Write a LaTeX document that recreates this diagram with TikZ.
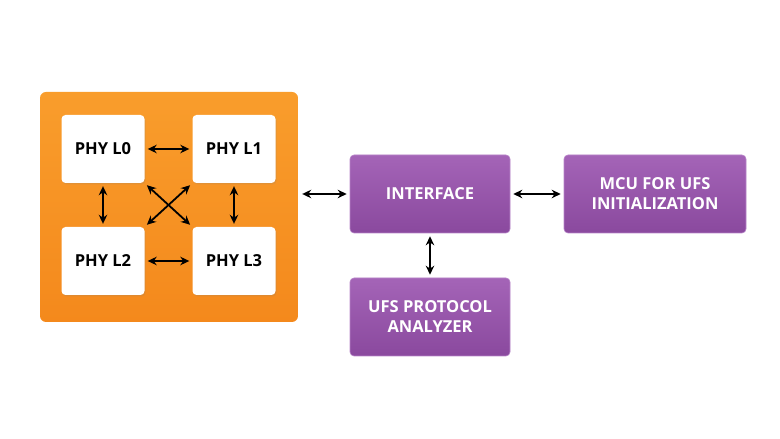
\documentclass[tikz,border=0pt]{standalone}
\usepackage{fontspec}
\setmainfont{Open Sans}
\usepackage{xcolor}
\usetikzlibrary{arrows.meta,positioning,calc,shadows}

\definecolor{orangetop}{HTML}{F99D2C}
\definecolor{orangebot}{HTML}{F4891C}
\definecolor{purpletop}{HTML}{A464B7}
\definecolor{purplebot}{HTML}{8A499E}
\definecolor{purpleline}{HTML}{B784C8}

\begin{document}
\begin{tikzpicture}[
    >={Stealth[length=9pt,width=8.5pt]},
    x=1pt, y=1pt,
    phybox/.style={rounded corners=4pt,minimum width=83pt,minimum height=68pt,
                   inner sep=1pt,fill=white,
                   drop shadow={opacity=0.18,shadow xshift=1pt,shadow yshift=-1.5pt},
                   font=\fontsize{16.5}{19}\selectfont\bfseries,text=black},
    block/.style={rounded corners=4pt,minimum height=78pt,inner sep=2pt,
                  draw=purpleline,line width=0.6pt,top color=purpletop,bottom color=purplebot,
                  align=center,font=\fontsize{16.5}{20}\selectfont\bfseries,text=white},
    link/.style={<->,line width=1.8pt,black,shorten <=3pt,shorten >=3pt},
  ]
  \useasboundingbox (0,0) rectangle (780,439);

  % --- left: PHY lanes on orange block ---
  \node[rounded corners=6pt,minimum width=258pt,minimum height=230pt,
        top color=orangetop,bottom color=orangebot] (phyblock) at (169,232) {};
  \node[phybox] (l0) at (103,290) {PHY L0};
  \node[phybox] (l1) at (234,290) {PHY L1};
  \node[phybox] (l2) at (103,178) {PHY L2};
  \node[phybox] (l3) at (234,178) {PHY L3};

  % --- right: purple blocks ---
  \node[block,minimum width=160pt] (iface) at (430,245) {INTERFACE};
  \node[block,minimum width=182pt] (mcu)   at (655,245) {MCU FOR UFS\\INITIALIZATION};
  \node[block,minimum width=160pt] (ufspa) at (430,122) {UFS PROTOCOL\\ANALYZER};

  % --- lane links ---
  \draw[link] (l0) -- (l1);
  \draw[link] (l2) -- (l3);
  \draw[link] (l0) -- (l2);
  \draw[link] (l1) -- (l3);
  \draw[link] (l0.south east) -- (l3.north west);
  \draw[link] (l1.south west) -- (l2.north east);

  % --- block links ---
  \draw[link,shorten <=4pt] (phyblock.east |- iface.west) -- (iface.west);
  \draw[link] (iface) -- (mcu);
  \draw[link] (iface) -- (ufspa);

\end{tikzpicture}
\end{document}
